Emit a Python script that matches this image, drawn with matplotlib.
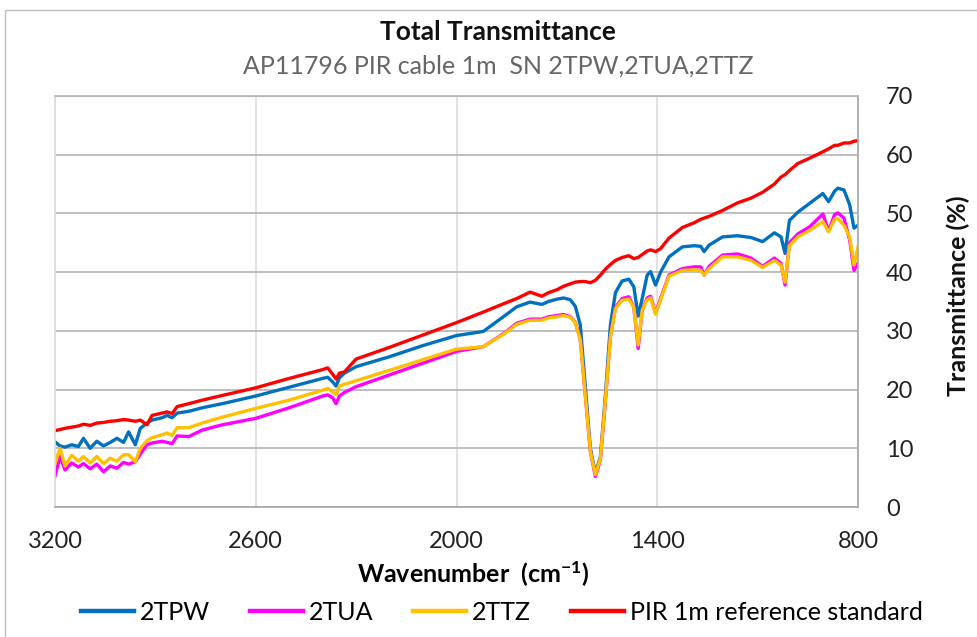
import matplotlib.pyplot as plt
from matplotlib.patches import Rectangle

plt.rcParams['font.family'] = ['Lato', 'DejaVu Sans']
plt.rcParams['mathtext.default'] = 'regular'

# --- Spectra (wavenumber in cm-1, transmittance in %) ---
wavenumber = [3200, 3185, 3170, 3150, 3130, 3115, 3095, 3075, 3055, 3035,
              3015, 2995, 2980, 2960, 2945, 2925, 2910, 2880, 2865, 2850,
              2835, 2800, 2760, 2700, 2600, 2500, 2400, 2385, 2370, 2360,
              2350, 2335, 2300, 2200, 2100, 2000, 1920, 1860, 1820, 1780,
              1745, 1725, 1700, 1680, 1660, 1645, 1630, 1615, 1600, 1585,
              1570, 1555, 1540, 1525, 1505, 1485, 1470, 1457, 1445, 1430,
              1420, 1405, 1390, 1365, 1325, 1290, 1270, 1260, 1245, 1205,
              1160, 1120, 1085, 1050, 1030, 1018, 1005, 980, 945, 905,
              888, 870, 860, 842, 825, 812, 800]

t_2tpw = [11.1, 10.4, 10.2, 10.6, 10.3, 11.7, 10.0, 11.2, 10.4, 11.0,
          11.7, 11.0, 12.8, 10.6, 13.4, 14.3, 14.8, 15.2, 15.6, 15.2,
          16.0, 16.3, 16.9, 17.6, 18.9, 20.4, 21.9, 22.1, 21.3, 20.6,
          22.0, 22.8, 23.9, 25.6, 27.5, 29.2, 29.9, 32.4, 34.1, 34.9,
          34.5, 35.0, 35.4, 35.6, 35.3, 34.2, 31.0, 20.5, 10.0, 5.8,
          8.5, 19.0, 31.0, 36.5, 38.5, 38.8, 37.5, 32.5, 35.5, 39.5,
          40.1, 37.8, 40.0, 42.6, 44.3, 44.5, 44.4, 43.5, 44.6, 46.0,
          46.2, 45.9, 45.2, 46.7, 46.0, 43.2, 48.8, 50.2, 51.7, 53.4,
          52.0, 53.8, 54.3, 54.0, 51.5, 47.5, 48.0]

t_2tua = [5.3, 8.6, 6.3, 7.5, 6.8, 7.4, 6.5, 7.3, 6.0, 7.0,
          6.6, 7.6, 7.3, 7.7, 9.0, 10.6, 10.9, 11.2, 11.0, 10.8,
          12.1, 12.0, 13.1, 14.0, 15.1, 16.9, 18.9, 19.1, 18.6, 17.6,
          18.9, 19.5, 20.5, 22.5, 24.5, 26.5, 27.3, 29.5, 31.3, 32.0,
          32.0, 32.4, 32.6, 32.8, 32.4, 31.5, 28.5, 19.0, 9.5, 5.2,
          8.0, 18.0, 29.0, 34.0, 35.5, 35.8, 34.0, 27.0, 33.5, 35.6,
          35.9, 33.0, 35.5, 39.5, 40.6, 40.9, 40.9, 39.5, 41.0, 42.9,
          43.1, 42.4, 41.0, 42.4, 41.5, 37.8, 45.0, 46.5, 47.7, 49.9,
          47.0, 49.8, 50.1, 49.2, 45.5, 40.3, 41.5]

t_2ttz = [7.4, 10.0, 7.0, 8.8, 7.8, 8.6, 7.5, 8.6, 7.4, 8.3,
          7.8, 8.9, 8.9, 7.7, 10.0, 11.3, 11.8, 12.3, 12.6, 12.2,
          13.5, 13.5, 14.3, 15.3, 16.8, 18.2, 19.9, 20.2, 19.6, 19.1,
          20.6, 20.9, 21.5, 23.3, 25.1, 26.9, 27.3, 29.4, 31.1, 31.8,
          31.8, 32.2, 32.4, 32.6, 32.3, 31.4, 28.5, 19.0, 9.5, 5.5,
          8.2, 18.2, 29.0, 33.8, 35.2, 35.4, 34.0, 27.6, 33.5, 35.3,
          35.6, 32.8, 35.3, 39.3, 40.3, 40.4, 40.3, 39.5, 40.6, 42.6,
          42.6, 42.0, 40.8, 42.0, 41.2, 38.3, 44.5, 46.0, 47.1, 48.6,
          46.9, 49.0, 49.1, 48.0, 46.0, 41.2, 44.3]

t_reference = [13.0, 13.2, 13.4, 13.6, 13.8, 14.1, 13.9, 14.3, 14.4, 14.6,
               14.7, 14.9, 14.8, 14.6, 14.8, 14.0, 15.6, 16.0, 16.2, 15.9,
               17.1, 17.6, 18.2, 19.0, 20.3, 21.9, 23.4, 23.7, 22.6, 21.8,
               22.8, 23.0, 25.2, 27.2, 29.3, 31.4, 33.2, 34.6, 35.5, 36.6,
               35.9, 36.5, 37.0, 37.6, 38.0, 38.3, 38.4, 38.4, 38.2, 38.6,
               39.5, 40.5, 41.3, 42.0, 42.5, 42.8, 42.3, 42.5, 43.0, 43.6,
               43.8, 43.5, 44.0, 45.8, 47.6, 48.4, 49.0, 49.2, 49.5, 50.5,
               51.8, 52.6, 53.6, 55.0, 56.2, 56.6, 57.3, 58.5, 59.4, 60.5,
               61.0, 61.6, 61.6, 62.0, 62.0, 62.3, 62.4]

x_ticks = [3200, 2600, 2000, 1400, 800]
y_ticks = [0, 10, 20, 30, 40, 50, 60, 70]

fig = plt.figure(figsize=(9.77, 6.37), dpi=100)
# outer chart border (Excel style)
fig.patches.append(Rectangle((5 / 977, -0.05), 1.1, 1.05 - 10 / 637, transform=fig.transFigure,
                             fill=False, edgecolor='#bfbfbf', linewidth=1.0))

ax = fig.add_axes([55 / 977, 130 / 637, 803 / 977, 411 / 637])

lw = 2.4
ax.plot(wavenumber, t_2tpw, color='#0070C0', linewidth=lw, label='2TPW')
ax.plot(wavenumber, t_2tua, color='#FF00FF', linewidth=lw, label='2TUA')
ax.plot(wavenumber, t_2ttz, color='#FFC000', linewidth=lw, label='2TTZ')
ax.plot(wavenumber, t_reference, color='#FF0000', linewidth=lw, label='PIR 1m reference standard')

ax.set_xlim(3200, 800)
ax.set_ylim(0, 70)
ax.set_xticks(x_ticks)
ax.set_yticks(y_ticks)

ax.yaxis.tick_right()
ax.tick_params(axis='both', length=0, labelsize=17, colors='#222222')
ax.tick_params(axis='x', pad=17)
ax.tick_params(axis='y', pad=20)

ax.grid(axis='y', color='#b3b3b3', linewidth=1.2)
ax.grid(axis='x', color='#dcdcdc', linewidth=1.2)
ax.set_axisbelow(True)
for side, col in [('top', '#b3b3b3'), ('bottom', '#a6a6a6'), ('left', '#dcdcdc'), ('right', '#a6a6a6')]:
    ax.spines[side].set_color(col)
    ax.spines[side].set_linewidth(1.2)

ax.set_xlabel('Wavenumber  (cm$^{-1}$)', fontsize=18, fontweight='bold')
ax.xaxis.set_label_coords((473 - 55) / 803, (507 - 559) / 411)

fig.text(958 / 977, 1 - 296 / 637, 'Transmittance (%)', rotation=90, ha='center', va='center',
         fontsize=18, fontweight='bold', color='#111111')

fig.text(498 / 977, 1 - 32 / 637, 'Total Transmittance', ha='center', va='center',
         fontsize=19, fontweight='bold', color='#111111')
fig.text(498 / 977, 1 - 66 / 637, 'AP11796 PIR cable 1m  SN 2TPW,2TUA,2TTZ', ha='center', va='center',
         fontsize=18, color='#666666')

leg = fig.legend(loc='center', bbox_to_anchor=(502 / 977, 1 - 612 / 637), ncol=4, frameon=False,
                 fontsize=18, handlelength=2.1, handletextpad=0.25, columnspacing=1.6)
for line in leg.get_lines():
    line.set_linewidth(3.2)

fig.savefig('out.png', dpi=100)
